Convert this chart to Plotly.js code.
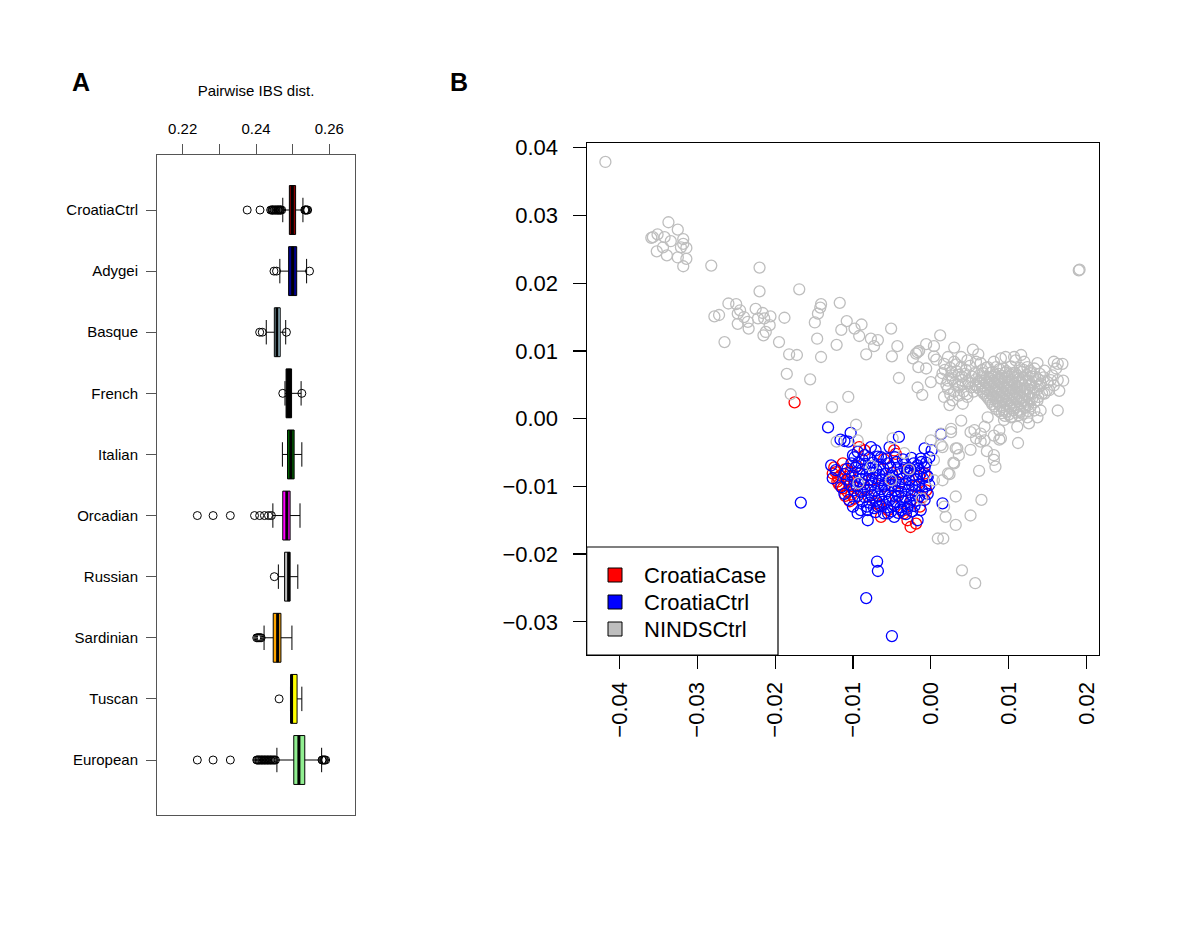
<!DOCTYPE html>
<html>
<head>
<meta charset="utf-8">
<script src="https://cdn.plot.ly/plotly-3.0.1.min.js"></script>
<style>html,body{margin:0;padding:0;background:#fff;}#chart{width:1200px;height:927px;}</style>
</head>
<body>
<div id="chart"></div>
<script>
// ---------------- Panel A data ----------------
const groups = ['CroatiaCtrl','Adygei','Basque','French','Italian','Orcadian','Russian','Sardinian','Tuscan','European'];
const boxColors = ['#8B0000','#00008B','#ADD8E6','#000000','#006400','#FF00FF','#BEBEBE','#FFA500','#FFFF00','#90EE90'];
const q1     = [0.2491,0.2489,0.2450,0.2482,0.2486,0.2473,0.2478,0.2447,0.2495,0.2503];
const median = [0.2499,0.2500,0.2457,0.2490,0.2495,0.2484,0.2489,0.2459,0.2497,0.2517];
const q3     = [0.2508,0.2511,0.2466,0.2497,0.2504,0.2493,0.2493,0.2468,0.2512,0.2533];
const lowerWhisker = [0.2473,0.2465,0.2428,0.2479,0.2472,0.2446,0.2461,0.2422,0.2494,0.2457];
const upperWhisker = [0.2528,0.2538,0.2481,0.2523,0.2525,0.2520,0.2514,0.2498,0.2525,0.2579];
const outCroatiaCtrl = [0.2376,0.2411,0.2440,0.2443,0.2445,0.2446,0.2449,0.2451,0.2454,0.2455,0.2458,0.2460,0.2461,0.2464,0.2466,0.2467,0.2470,0.2533,0.2535,0.2536,0.2539,0.2541];
const outAdygei = [0.2449,0.2456,0.2546];
const outBasque = [0.2410,0.2417,0.2483];
const outFrench = [0.2473,0.2525];
const outItalian = [];
const outOrcadian = [0.2240,0.2283,0.2330,0.2396,0.2410,0.2423,0.2434,0.2442];
const outRussian = [0.2450];
const outSardinian = [0.2402,0.2405,0.2408,0.2411,0.2414];
const outTuscan = [0.2463];
const outEuropean = [0.2240,0.2283,0.2330,0.2402,0.2404,0.2407,0.2409,0.2412,0.2415,0.2417,0.2420,0.2423,0.2425,0.2428,0.2431,0.2433,0.2436,0.2439,0.2441,0.2444,0.2447,0.2450,0.2453,0.2580,0.2582,0.2585,0.2587,0.2590];
const outliers = [outCroatiaCtrl,outAdygei,outBasque,outFrench,outItalian,outOrcadian,outRussian,outSardinian,outTuscan,outEuropean];
const ibsTicks = [0.22,0.23,0.24,0.25,0.26];
const ibsTickText = ['0.22','','0.24','','0.26'];

// ---------------- Panel B data ([PC1, PC2]) ----------------
const croatiaCase = [
[-0.0175,0.0024],
[-0.0113,-0.0066],[-0.0120,-0.0093],[-0.0113,-0.0103],[-0.0107,-0.0108],[-0.0098,-0.0118],[-0.0092,-0.0042],[-0.0085,-0.0047],
[-0.0047,-0.0047],[-0.0045,-0.0052],[-0.0008,-0.0081],[-0.0006,-0.0106],[-0.0011,-0.0116],[-0.0064,-0.0145],[-0.0026,-0.0160],
[-0.0019,-0.0155],[-0.0066,-0.0128],[-0.0103,-0.0079],[-0.0107,-0.0091],
[-0.0124,-0.0072],[-0.0119,-0.0087],[-0.0116,-0.0099],[-0.0110,-0.0114],[-0.0104,-0.0122],[-0.0126,-0.0081],
[-0.0110,-0.0075],[-0.0105,-0.0085],[-0.0095,-0.0070],[-0.0090,-0.0095],[-0.0085,-0.0105],[-0.0080,-0.0115],[-0.0075,-0.0090],
[-0.0070,-0.0125],[-0.0060,-0.0100],[-0.0055,-0.0135],[-0.0050,-0.0080],[-0.0045,-0.0115],[-0.0040,-0.0095],[-0.0035,-0.0140],
[-0.0030,-0.0075],[-0.0025,-0.0120],[-0.0020,-0.0100],[-0.0015,-0.0085],[-0.0060,-0.0060],[-0.0100,-0.0100],[-0.0116,-0.0084],
[-0.0122,-0.0079],[-0.0118,-0.0097],[-0.0102,-0.0112],[-0.0030,-0.0150],[-0.0014,-0.0130]
];
const croatiaCtrl = [
[-0.0132,-0.0013],[-0.0116,-0.0031],[-0.0111,-0.0033],[-0.0106,-0.0034],[-0.0103,-0.0021],[-0.0041,-0.0027],[0.0013,-0.0023],
[-0.0008,-0.0044],[0.0001,-0.0047],[-0.0002,-0.0057],[-0.0006,-0.0065],[-0.0128,-0.0069],[-0.0126,-0.0088],[0.0015,-0.0125],
[-0.0167,-0.0124],[-0.0094,-0.0140],[-0.0081,-0.0150],[-0.0090,-0.0135],[-0.0047,-0.0145],[-0.0038,-0.0135],[-0.0017,-0.0150],
[-0.0013,-0.0135],[-0.0081,-0.0135],[-0.0100,-0.0130],[-0.0077,-0.0042],[-0.0071,-0.0047],[-0.0064,-0.0057],[-0.0100,-0.0054],
[-0.0094,-0.0049],[-0.0085,-0.0054],[-0.0053,-0.0042],[-0.0026,-0.0074],[-0.0017,-0.0069],[-0.0013,-0.0059],[-0.0115,-0.0101],
[-0.0111,-0.0111],[-0.0105,-0.0120],[-0.0122,-0.0076],[-0.0068,-0.0130],[-0.0055,-0.0140],[-0.0030,-0.0130],[-0.0008,-0.0120],
[-0.0004,-0.0111],[-0.0002,-0.0098],[-0.0004,-0.0086],
[-0.0069,-0.0211],[-0.0068,-0.0225],[-0.0083,-0.0265],[-0.0050,-0.0321],
[-0.0098,-0.0057],[-0.0088,-0.0060],[-0.0079,-0.0058],[-0.0068,-0.0056],[-0.0057,-0.0059],[-0.0046,-0.0057],[-0.0036,-0.0060],[-0.0025,-0.0058],
[-0.0102,-0.0066],[-0.0093,-0.0065],[-0.0084,-0.0067],[-0.0074,-0.0065],[-0.0065,-0.0068],[-0.0055,-0.0066],[-0.0044,-0.0064],[-0.0033,-0.0067],[-0.0022,-0.0066],[-0.0012,-0.0064],
[-0.0107,-0.0074],[-0.0097,-0.0072],[-0.0088,-0.0075],[-0.0079,-0.0073],[-0.0070,-0.0076],[-0.0061,-0.0074],[-0.0052,-0.0072],[-0.0043,-0.0075],[-0.0034,-0.0073],[-0.0026,-0.0076],[-0.0016,-0.0074],[-0.0008,-0.0072],
[-0.0111,-0.0082],[-0.0101,-0.0084],[-0.0092,-0.0081],[-0.0083,-0.0083],[-0.0075,-0.0080],[-0.0066,-0.0083],[-0.0058,-0.0081],[-0.0049,-0.0084],[-0.0040,-0.0082],[-0.0031,-0.0080],[-0.0022,-0.0083],[-0.0013,-0.0081],[-0.0005,-0.0084],
[-0.0108,-0.0090],[-0.0098,-0.0092],[-0.0089,-0.0089],[-0.0080,-0.0091],[-0.0071,-0.0088],[-0.0063,-0.0091],[-0.0054,-0.0090],[-0.0045,-0.0092],[-0.0037,-0.0089],[-0.0028,-0.0091],[-0.0019,-0.0090],[-0.0010,-0.0088],
[-0.0104,-0.0098],[-0.0095,-0.0100],[-0.0086,-0.0097],[-0.0077,-0.0099],[-0.0068,-0.0096],[-0.0059,-0.0099],[-0.0050,-0.0098],[-0.0041,-0.0100],[-0.0033,-0.0097],[-0.0024,-0.0099],[-0.0015,-0.0098],[-0.0007,-0.0100],
[-0.0099,-0.0106],[-0.0090,-0.0108],[-0.0081,-0.0105],[-0.0072,-0.0107],[-0.0064,-0.0104],[-0.0055,-0.0107],[-0.0046,-0.0106],[-0.0038,-0.0108],[-0.0029,-0.0105],[-0.0020,-0.0107],[-0.0011,-0.0106],
[-0.0094,-0.0114],[-0.0085,-0.0116],[-0.0076,-0.0113],[-0.0067,-0.0115],[-0.0059,-0.0112],[-0.0050,-0.0115],[-0.0042,-0.0114],[-0.0033,-0.0116],[-0.0024,-0.0113],[-0.0015,-0.0115],
[-0.0088,-0.0122],[-0.0079,-0.0124],[-0.0070,-0.0121],[-0.0062,-0.0123],[-0.0053,-0.0120],[-0.0045,-0.0123],[-0.0036,-0.0122],[-0.0027,-0.0124],[-0.0018,-0.0121],
[-0.0082,-0.0130],[-0.0073,-0.0132],[-0.0064,-0.0129],[-0.0056,-0.0131],[-0.0047,-0.0128],[-0.0039,-0.0131],[-0.0030,-0.0133],[-0.0021,-0.0129],
[-0.0071,-0.0138],[-0.0060,-0.0140],[-0.0051,-0.0137],[-0.0042,-0.0139],[-0.0032,-0.0141],[-0.0024,-0.0137]
];
const nindsCtrl = [
[-0.0418,0.0379],
[-0.0337,0.0290],[-0.0325,0.0279],[-0.0359,0.0267],[-0.0357,0.0268],[-0.0351,0.0272],[-0.0342,0.0268],[-0.0334,0.0262],
[-0.0318,0.0265],[-0.0318,0.0258],[-0.0321,0.0253],[-0.0314,0.0252],[-0.0344,0.0253],[-0.0352,0.0247],[-0.0339,0.0241],
[-0.0325,0.0238],[-0.0314,0.0236],[-0.0318,0.0225],[-0.0282,0.0226],[-0.0220,0.0223],[-0.0220,0.0188],[-0.0169,0.0191],
[-0.0260,0.0170],[-0.0250,0.0169],[-0.0278,0.0151],[-0.0272,0.0153],[-0.0248,0.0155],[-0.0245,0.0160],[-0.0240,0.0150],
[-0.0248,0.0140],[-0.0235,0.0143],[-0.0234,0.0133],[-0.0225,0.0162],[-0.0216,0.0156],[-0.0222,0.0148],[-0.0214,0.0148],
[-0.0206,0.0151],[-0.0207,0.0138],[-0.0212,0.0128],[-0.0215,0.0123],[-0.0265,0.0113],[-0.0195,0.0113],[-0.0188,0.0149],
[-0.0182,0.0095],[-0.0172,0.0094],[-0.0185,0.0066],[-0.0180,0.0036],[-0.0155,0.0058],[-0.0141,0.0169],[-0.0142,0.0164],
[-0.0145,0.0155],[-0.0149,0.0142],[-0.0146,0.0118],[-0.0141,0.0091],[-0.0117,0.0171],[-0.0108,0.0144],[-0.0115,0.0131],
[-0.0098,0.0133],[-0.0089,0.0139],[-0.0092,0.0122],[-0.0077,0.0118],[-0.0068,0.0116],[-0.0073,0.0107],[-0.0083,0.0095],
[-0.0121,0.0109],[-0.0051,0.0133],[-0.0043,0.0107],[-0.0050,0.0092],[-0.0041,0.0060],[-0.0023,0.0089],[-0.0017,0.0098],
[-0.0016,0.0076],[-0.0017,0.0046],[-0.0106,0.0032],[-0.0127,0.0017],
[-0.0096,-0.0009],[-0.0094,-0.0032],[-0.0121,-0.0034],[-0.0049,-0.0029],[-0.0034,-0.0051],[-0.0076,-0.0070],[-0.0093,-0.0095],
[-0.0051,-0.0091],[-0.0028,-0.0075],[-0.0012,-0.0118],
[0.0026,-0.0020],[0.0000,-0.0032],[0.0013,-0.0039],[0.0032,-0.0044],[0.0004,-0.0061],[0.0030,-0.0066],[0.0022,-0.0081],
[0.0004,-0.0091],[0.0015,-0.0091],[0.0032,-0.0115],[0.0017,-0.0130],[0.0019,-0.0145],[0.0032,-0.0157],[0.0009,-0.0177],
[0.0016,-0.0177],[0.0024,0.0020],[0.0039,-0.0003],[0.0051,-0.0020],[0.0064,-0.0034],[0.0015,-0.0042],[0.0034,-0.0044],
[0.0051,-0.0046],[0.0072,-0.0048],[0.0088,-0.0031],[0.0112,-0.0036],[0.0081,-0.0054],[0.0081,-0.0061],[0.0083,-0.0071],
[0.0036,-0.0054],[0.0029,-0.0065],[0.0024,-0.0082],[0.0062,-0.0077],[0.0065,-0.0120],[0.0051,-0.0143],[0.0040,-0.0224],
[0.0057,-0.0243],
[0.0012,0.0123],[-0.0006,0.0110],[0.0004,0.0107],[-0.0015,0.0100],[-0.0019,0.0096],[0.0004,0.0092],[0.0007,0.0087],
[-0.0006,0.0074],[0.0030,0.0105],[0.0054,0.0102],[0.0061,0.0095],[0.0022,0.0091],[0.0039,0.0091],[0.0047,0.0086],
[0.0064,0.0082],[0.0017,0.0081],[0.0030,0.0084],[0.0015,0.0067],[0.0026,0.0064],[0.0013,0.0059],[0.0000,0.0054],
[-0.0011,0.0035],[0.0017,0.0032],[0.0028,0.0027],[0.0041,0.0022],[0.0047,0.0032],[0.0036,0.0047],[0.0049,0.0052],
[0.0039,0.0057],[0.0056,0.0067],[0.0039,0.0076],[0.0073,0.0076],[0.0081,0.0084],[0.0090,0.0089],[0.0096,0.0091],
[0.0107,0.0091],[0.0116,0.0094],[0.0109,0.0086],[0.0120,0.0084],[0.0137,0.0082],[0.0133,0.0074],[0.0146,0.0071],
[0.0158,0.0084],[0.0163,0.0081],[0.0169,0.0081],[0.0161,0.0074],[0.0156,0.0064],[0.0170,0.0056],[0.0163,0.0057],
[0.0154,0.0057],[0.0152,0.0042],[0.0165,0.0041],[0.0141,0.0052],[0.0146,0.0037],[0.0137,0.0027],[0.0141,0.0012],
[0.0133,0.0012],[0.0137,0.0002],[0.0163,0.0012],[0.0124,0.0002],[0.0126,-0.0007],[0.0111,-0.0012],[0.0103,0.0002],
[0.0094,-0.0002],[0.0088,-0.0017],[0.0073,0.0002],[0.0069,-0.0012],[0.0064,-0.0022],[0.0056,-0.0017],[0.0081,-0.0025],
[0.0090,-0.0029],[0.0069,-0.0032],[0.0058,-0.0029],[0.0026,-0.0015],[0.0013,-0.0022],
[0.0025,0.0075],[0.0033,0.0070],[0.0040,0.0062],[0.0028,0.0058],[0.0045,0.0072],[0.0035,0.0050],[0.0048,0.0055],
[0.0042,0.0040],[0.0052,0.0046],[0.0020,0.0050],[0.0030,0.0040],
[0.0018,0.0072],[0.0027,0.0069],[0.0036,0.0065],[0.0044,0.0066],[0.0053,0.0062],[0.0022,0.0056],[0.0031,0.0053],
[0.0041,0.0051],[0.0055,0.0040],[0.0046,0.0036],[0.0036,0.0034],[0.0025,0.0036],[0.0050,0.0078],[0.0058,0.0084],
[0.0033,0.0080],[0.0022,0.0044],[0.0058,0.0050],
[0.0066,0.0072],[0.0079,0.0069],[0.0088,0.0073],[0.0097,0.0070],[0.0108,0.0068],[0.0119,0.0072],[0.0128,0.0070],
[0.0062,0.0064],[0.0072,0.0062],[0.0083,0.0065],[0.0091,0.0063],[0.0101,0.0066],[0.0112,0.0063],[0.0123,0.0065],[0.0134,0.0062],
[0.0058,0.0058],[0.0069,0.0056],[0.0077,0.0059],[0.0087,0.0057],[0.0095,0.0060],[0.0104,0.0057],[0.0114,0.0059],[0.0126,0.0056],[0.0138,0.0058],
[0.0064,0.0052],[0.0074,0.0050],[0.0082,0.0053],[0.0090,0.0051],[0.0099,0.0054],[0.0107,0.0051],[0.0117,0.0053],[0.0129,0.0050],
[0.0060,0.0046],[0.0070,0.0044],[0.0079,0.0047],[0.0086,0.0045],[0.0094,0.0048],[0.0103,0.0045],[0.0111,0.0047],[0.0121,0.0044],[0.0133,0.0046],
[0.0067,0.0040],[0.0076,0.0038],[0.0084,0.0041],[0.0092,0.0039],[0.0100,0.0042],[0.0109,0.0039],[0.0118,0.0041],[0.0127,0.0038],
[0.0071,0.0034],[0.0080,0.0032],[0.0088,0.0035],[0.0097,0.0033],[0.0105,0.0036],[0.0114,0.0033],[0.0124,0.0035],
[0.0075,0.0028],[0.0085,0.0026],[0.0093,0.0029],[0.0101,0.0027],[0.0110,0.0030],[0.0120,0.0027],[0.0130,0.0029],
[0.0079,0.0021],[0.0089,0.0019],[0.0098,0.0022],[0.0107,0.0020],[0.0116,0.0023],[0.0125,0.0020],
[0.0084,0.0014],[0.0094,0.0012],[0.0103,0.0015],[0.0113,0.0013],[0.0121,0.0016],
[0.0091,0.0008],[0.0100,0.0006],[0.0110,0.0009],[0.0118,0.0007],
[0.0071,0.0075],[0.0084,0.0076],[0.0093,0.0074],[0.0103,0.0077],[0.0114,0.0075],[0.0124,0.0076],
[0.0067,0.0067],[0.0077,0.0068],[0.0087,0.0066],[0.0096,0.0068],[0.0106,0.0067],[0.0117,0.0069],[0.0128,0.0067],[0.0140,0.0066],
[0.0065,0.0061],[0.0075,0.0060],[0.0081,0.0062],[0.0092,0.0060],[0.0099,0.0062],[0.0109,0.0061],[0.0119,0.0060],[0.0131,0.0062],[0.0145,0.0061],
[0.0062,0.0055],[0.0072,0.0054],[0.0080,0.0056],[0.0088,0.0054],[0.0095,0.0056],[0.0103,0.0055],[0.0112,0.0054],[0.0122,0.0056],[0.0135,0.0055],[0.0150,0.0054],
[0.0057,0.0049],[0.0067,0.0048],[0.0076,0.0050],[0.0085,0.0048],[0.0093,0.0050],[0.0101,0.0049],[0.0110,0.0048],[0.0118,0.0050],[0.0127,0.0049],[0.0140,0.0048],[0.0158,0.0049],
[0.0063,0.0043],[0.0073,0.0042],[0.0082,0.0044],[0.0089,0.0042],[0.0097,0.0044],[0.0106,0.0043],[0.0115,0.0042],[0.0124,0.0044],[0.0137,0.0043],[0.0149,0.0042],
[0.0068,0.0037],[0.0078,0.0036],[0.0086,0.0038],[0.0094,0.0036],[0.0102,0.0038],[0.0111,0.0037],[0.0121,0.0036],[0.0132,0.0038],[0.0143,0.0037],
[0.0073,0.0031],[0.0083,0.0030],[0.0091,0.0032],[0.0099,0.0030],[0.0108,0.0032],[0.0117,0.0031],[0.0127,0.0030],[0.0138,0.0032],
[0.0077,0.0025],[0.0087,0.0024],[0.0096,0.0026],[0.0104,0.0024],[0.0113,0.0026],[0.0123,0.0025],[0.0133,0.0024],
[0.0082,0.0018],[0.0092,0.0017],[0.0101,0.0019],[0.0110,0.0017],[0.0119,0.0019],[0.0128,0.0018],
[0.0088,0.0011],[0.0097,0.0010],[0.0106,0.0012],[0.0115,0.0010],[0.0125,0.0011],
[0.0095,0.0004],[0.0104,0.0003],[0.0113,0.0005],
[0.0190,0.0219],[0.0191,0.0220]
];
const pcXTicks = [-0.04,-0.03,-0.02,-0.01,0.00,0.01,0.02];
const pcYTicks = [-0.03,-0.02,-0.01,0.00,0.01,0.02,0.03,0.04];

// ---------------- build traces ----------------
const FONT = 'Liberation Sans, Arial, Helvetica, sans-serif';
const yPos = groups.map((g,i) => groups.length - i);
const traces = [];

groups.forEach((g,i) => {
  traces.push({
    type:'box', orientation:'h', xaxis:'x', yaxis:'y',
    y:[yPos[i]], q1:[q1[i]], median:[median[i]], q3:[q3[i]],
    lowerfence:[lowerWhisker[i]], upperfence:[upperWhisker[i]],
    width:0.8, whiskerwidth:0.5, boxpoints:false,
    fillcolor:boxColors[i], line:{color:'#000', width:1},
    showlegend:false, hoverinfo:'skip', name:g
  });
});
// thick median lines
const mx = [], my = [];
groups.forEach((g,i) => { mx.push(median[i], median[i], null); my.push(yPos[i]-0.4, yPos[i]+0.4, null); });
traces.push({type:'scatter', mode:'lines', xaxis:'x', yaxis:'y', x:mx, y:my,
  line:{color:'#000', width:3}, showlegend:false, hoverinfo:'skip'});
// outliers
const ox = [], oy = [];
groups.forEach((g,i) => outliers[i].forEach(v => { ox.push(v); oy.push(yPos[i]); }));
traces.push({type:'scatter', mode:'markers', xaxis:'x', yaxis:'y', x:ox, y:oy,
  marker:{symbol:'circle-open', size:8, color:'#000', line:{width:1, color:'#000'}},
  showlegend:false, hoverinfo:'skip'});

// Panel B scatter
const series = [
  {name:'CroatiaCase', data:croatiaCase, color:'#FF0000'},
  {name:'CroatiaCtrl', data:croatiaCtrl, color:'#0000FF'},
  {name:'NINDSCtrl',   data:nindsCtrl,   color:'#BEBEBE'}
];
series.forEach(s => {
  traces.push({type:'scatter', mode:'markers', xaxis:'x2', yaxis:'y2',
    x:s.data.map(p=>p[0]), y:s.data.map(p=>p[1]),
    marker:{symbol:'circle-open', size:11, color:s.color, line:{width:1.3, color:s.color}},
    showlegend:false, hoverinfo:'skip', name:s.name});
});

// legend (box in the lower-left corner of panel B)
const legX0 = 586.7/1200, legX1 = 778/1200, legY0 = 1-655/927, legY1 = 1-547/927;
const legRowsY = [575, 602, 629];
const shapes = [{type:'rect', xref:'paper', yref:'paper', x0:legX0, x1:legX1, y0:legY0, y1:legY1,
  fillcolor:'#fff', line:{color:'#000', width:1.2}, layer:'above'}];
const annotations = [
  {text:'<b>A</b>', xref:'paper', yref:'paper', x:81/1200, y:1-82/927, showarrow:false, font:{size:25, family:FONT}, xanchor:'center', yanchor:'middle'},
  {text:'<b>B</b>', xref:'paper', yref:'paper', x:459/1200, y:1-82/927, showarrow:false, font:{size:25, family:FONT}, xanchor:'center', yanchor:'middle'}
];
series.forEach((s,i) => {
  const cy = legRowsY[i];
  shapes.push({type:'rect', xref:'paper', yref:'paper', x0:608/1200, x1:622/1200, y0:1-(cy+7)/927, y1:1-(cy-7)/927,
    fillcolor:s.color, line:{color:'#000', width:1}, layer:'above'});
  annotations.push({text:s.name, xref:'paper', yref:'paper', x:642/1200, y:1-cy/927, xanchor:'left', yanchor:'middle',
    showarrow:false, font:{size:22, family:FONT, color:'#000'}});
});

const layout = {
  width:1200, height:927, autosize:false,
  margin:{l:0,r:0,t:0,b:0},
  paper_bgcolor:'#fff', plot_bgcolor:'#fff',
  font:{family:FONT, color:'#000'},
  boxmode:'overlay',
  showlegend:false,
  xaxis:{
    domain:[157/1200, 355/1200], anchor:'y', side:'top',
    range:[0.213,0.267], tickvals:ibsTicks, ticktext:ibsTickText,
    ticks:'outside', ticklen:10, tickwidth:1, tickcolor:'#555',
    showline:true, mirror:true, linecolor:'#555', linewidth:1,
    showgrid:false, zeroline:false, tickfont:{size:15, family:FONT},
    ticklabelstandoff:4,
    title:{text:'Pairwise IBS dist.', font:{size:15, family:FONT}, standoff:19}
  },
  yaxis:{
    domain:[112/927, 772/927], anchor:'x',
    range:[0.1,10.9], tickvals:yPos, ticktext:groups,
    ticks:'outside', ticklen:10, tickwidth:1, tickcolor:'#555',
    showline:true, mirror:true, linecolor:'#555', linewidth:1,
    showgrid:false, zeroline:false, tickfont:{size:15, family:FONT},
    ticklabelstandoff:5
  },
  xaxis2:{
    domain:[586.7/1200, 1099/1200], anchor:'y2',
    range:[-0.0442,0.0216], tickvals:pcXTicks, tickformat:'.2f', tickangle:-90,
    ticks:'outside', ticklen:13, tickwidth:1.2, tickcolor:'#000',
    showline:true, mirror:true, linecolor:'#000', linewidth:1.2,
    showgrid:false, zeroline:false, tickfont:{size:22, family:FONT},
    ticklabelstandoff:4
  },
  yaxis2:{
    domain:[272/927, 784/927], anchor:'x2',
    range:[-0.0349,0.0407], tickvals:pcYTicks, tickformat:'.2f',
    ticks:'outside', ticklen:13, tickwidth:1.2, tickcolor:'#000',
    showline:true, mirror:true, linecolor:'#000', linewidth:1.2,
    showgrid:false, zeroline:false, tickfont:{size:22, family:FONT},
    ticklabelstandoff:10
  },
  shapes: shapes,
  annotations: annotations
};

Plotly.newPlot('chart', traces, layout, {staticPlot:true, displayModeBar:false});
</script>
</body>
</html>
